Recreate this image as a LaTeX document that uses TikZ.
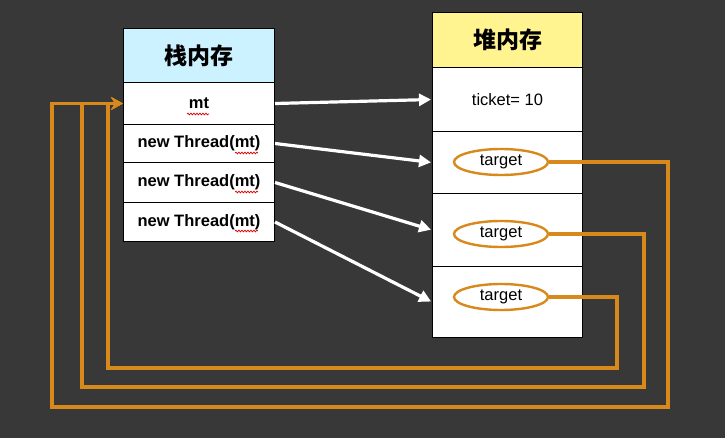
\documentclass[tikz,border=0pt]{standalone}
\usepackage{fontspec}
\setmainfont{Liberation Sans}
\newfontfamily\cjk{Noto Sans CJK SC}
\usetikzlibrary{arrows.meta,shapes.geometric,decorations.pathmorphing}
\definecolor{bg}{HTML}{383838}
\definecolor{stackhead}{HTML}{CCF2FF}
\definecolor{heaphead}{HTML}{FFF490}
\definecolor{org}{HTML}{D8891C}
\begin{document}
\begin{tikzpicture}[x=1pt,y=-1pt,
  cell/.style={draw=black,line width=1pt,fill=white,anchor=north west,inner sep=0pt,font=\fontsize{16.5}{18}\selectfont},
  stackcell/.style={cell,minimum width=151pt,font=\bfseries\fontsize{16.5}{18}\selectfont},
  heapcell/.style={cell,minimum width=150pt},
  headtxt/.style={font=\cjk\bfseries\fontsize{23}{26}\selectfont},
  targetnode/.style={ellipse,draw=org,line width=2.4pt,fill=white,minimum width=94pt,minimum height=26pt,inner sep=0pt,font=\fontsize{16.5}{18}\selectfont},
  whitearrow/.style={draw=white,line width=3.2pt,-{Triangle[length=12pt,width=12pt]},shorten >=1pt},
  orangeline/.style={draw=org,line width=3.6pt,-{Stealth[length=12pt,width=13pt]}},
  squiggle/.style={draw=red!85!black,line width=0.7pt,decorate,decoration={snake,segment length=3pt,amplitude=0.9pt}}]
\useasboundingbox[fill=bg] (0,0) rectangle (725,438);
% stack
\node[stackcell,minimum height=54pt,fill=stackhead,headtxt] (s0) at (123,28) {栈内存};
\node[stackcell,minimum height=42pt] (s1) at (123,82) {mt};
\node[stackcell,minimum height=38pt] (s2) at (123,124) {new Thread(mt)};
\node[stackcell,minimum height=40pt] (s3) at (123,162) {new Thread(mt)};
\node[stackcell,minimum height=39pt] (s4) at (123,202) {new Thread(mt)};
% heap
\node[heapcell,minimum height=55pt,fill=heaphead,headtxt] (h0) at (432,12) {堆内存};
\node[heapcell,minimum height=64pt] (h1) at (432,67) {ticket= 10};
\node[heapcell,minimum height=62pt] (h2) at (432,131) {};
\node[heapcell,minimum height=73pt] (h3) at (432,193) {};
\node[heapcell,minimum height=71pt] (h4) at (432,266) {};
\node[targetnode] (t1) at (501,162) {target};
\node[targetnode] (t2) at (501,234) {target};
\node[targetnode] (t3) at (501,297) {target};
% spelling squiggles
\draw[squiggle] (187,114) -- (209,114);
\draw[squiggle] (235,153) -- (258,153);
\draw[squiggle] (235,192) -- (258,192);
\draw[squiggle] (235,231) -- (258,231);
% white arrows
\draw[whitearrow] (s1.east) -- (h1.west);
\draw[whitearrow] (s2.east) -- (h2.west);
\draw[whitearrow] (s3.east) -- (h3.west);
\draw[whitearrow] (s4.east) -- (h4.west);
% orange loops
\draw[orangeline] (t1.east) -- (668,162) |- (52,407) |- (s1.west);
\draw[orangeline] (t2.east) -- (644,234) |- (82,387) |- (s1.west);
\draw[orangeline] (t3.east) -- (617,297) |- (108,368) |- (s1.west);
\end{tikzpicture}
\end{document}
